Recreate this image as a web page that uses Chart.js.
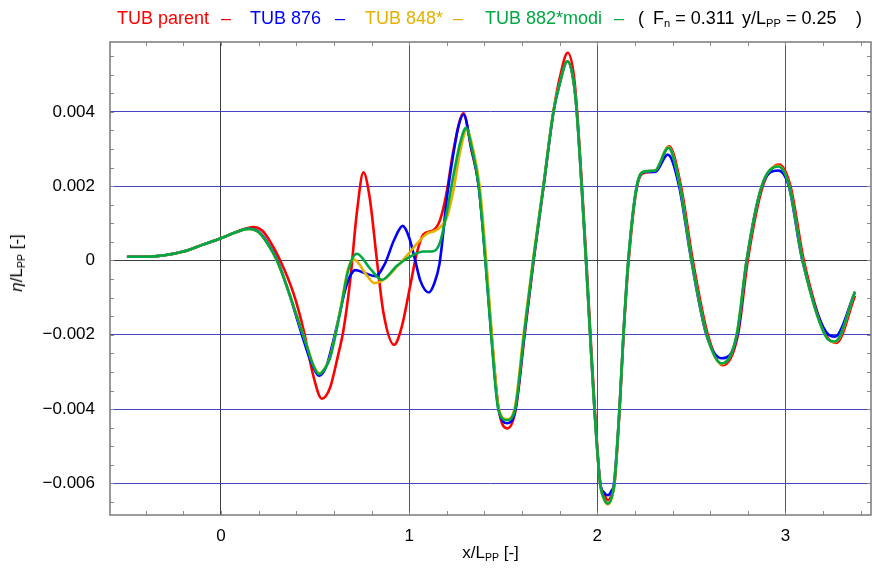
<!DOCTYPE html>
<html>
<head>
<meta charset="utf-8">
<script src="https://cdn.jsdelivr.net/npm/chart.js@4.4.1/dist/chart.umd.min.js"></script>
<style>
  html, body { margin: 0; padding: 0; background: #fff; }
  #wrap { position: relative; width: 872px; height: 574px; font-family: "Liberation Sans", Arial, sans-serif; }
  canvas { position: absolute; left: 0; top: 0; }
  .lg { position: absolute; top: 8px; font-size: 18px; line-height: 21px; white-space: nowrap; }
  sub { font-size: 0.62em; vertical-align: -0.25em; line-height: 0; }
  #xtitle { position: absolute; top: 543px; left: 0; width: 981px; text-align: center; font-size: 17px; }
  #ytitle { position: absolute; left: 17px; top: 263px; transform: translate(-50%, -50%) rotate(-90deg); font-size: 17px; white-space: nowrap; }
</style>
</head>
<body>
<div id="wrap">
  <canvas id="c" width="872" height="574"></canvas>
  <span class="lg" style="left:117px;color:#ff0000">TUB parent</span>
  <span class="lg" style="left:221px;color:#ff0000">–</span>
  <span class="lg" style="left:250px;color:#0000ff">TUB 876</span>
  <span class="lg" style="left:335px;color:#0000ff">–</span>
  <span class="lg" style="left:365px;color:#e6b000">TUB 848*</span>
  <span class="lg" style="left:453px;color:#e6b000">–</span>
  <span class="lg" style="left:485px;color:#00a843">TUB 882*modi</span>
  <span class="lg" style="left:614px;color:#00a843">–</span>
  <span class="lg" style="left:638px;color:#000">(</span>
  <span class="lg" style="left:653px;color:#000">F<sub>n</sub> = 0.311</span>
  <span class="lg" style="left:742px;color:#000">y/L<sub>PP</sub> = 0.25</span>
  <span class="lg" style="left:856px;color:#000">)</span>
  <div id="xtitle">x/L<sub>PP</sub> [-]</div>
  <div id="ytitle"><i>η</i>/L<sub>PP</sub> [-]</div>
</div>
<script>
// ---- data (x/LPP, eta/LPP) ----
const seriesNames = ["TUB parent", "TUB 876", "TUB 848*", "TUB 882*modi"];

const redX = [-0.50,-0.40,-0.30,-0.20,-0.10,0.00,0.08,0.173,0.22,0.26,0.315,0.385,0.439,0.492,0.536,0.58,0.62,0.651,0.687,0.722,0.757,0.79,0.83,0.864,0.92,0.96,1.005,1.041,1.076,1.13,1.165,1.20,1.236,1.289,1.33,1.37,1.407,1.438,1.476,1.523,1.567,1.614,1.662,1.715,1.767,1.80,1.843,1.875,1.893,1.942,1.964,1.987,2.016,2.037,2.057,2.077,2.092,2.119,2.14,2.167,2.212,2.257,2.31,2.382,2.445,2.508,2.588,2.668,2.748,2.80,2.88,2.967,3.027,3.098,3.216,3.27,3.37];
const redY = [0.00010,0.00010,0.00014,0.00024,0.00042,0.00060,0.00077,0.00090,0.00080,0.00052,0.00000,-0.00088,-0.00187,-0.00313,-0.00372,-0.00342,-0.00260,-0.00187,-0.00052,0.00128,0.00237,0.00170,-0.00005,-0.00142,-0.00227,-0.00180,-0.00070,0.00020,0.00070,0.00082,0.00110,0.00185,0.00298,0.00396,0.00300,0.00200,0.00000,-0.00200,-0.00400,-0.00452,-0.00400,-0.00200,0.00000,0.00200,0.00400,0.00490,0.00559,0.00500,0.00400,0.00000,-0.00200,-0.00400,-0.00600,-0.00630,-0.00645,-0.00630,-0.00600,-0.00400,-0.00200,0.00000,0.00200,0.00237,0.00240,0.00307,0.00200,0.00000,-0.00200,-0.00282,-0.00200,0.00000,0.00200,0.00258,0.00200,0.00000,-0.00200,-0.00222,-0.00095];

const blueX = [-0.50,-0.40,-0.30,-0.20,-0.10,0.00,0.08,0.146,0.20,0.245,0.30,0.36,0.43,0.48,0.523,0.56,0.598,0.63,0.66,0.69,0.715,0.76,0.82,0.87,0.92,0.966,1.00,1.03,1.06,1.105,1.135,1.161,1.175,1.20,1.236,1.262,1.289,1.33,1.37,1.406,1.437,1.475,1.522,1.565,1.612,1.66,1.714,1.767,1.80,1.841,1.873,1.891,1.94,1.962,1.985,2.016,2.037,2.056,2.075,2.089,2.118,2.139,2.165,2.21,2.254,2.307,2.375,2.435,2.50,2.58,2.662,2.745,2.794,2.875,2.962,3.018,3.09,3.23,3.264,3.37];
const blueY = [0.00010,0.00010,0.00014,0.00024,0.00042,0.00060,0.00076,0.00086,0.00078,0.00050,0.00000,-0.00085,-0.00200,-0.00275,-0.00310,-0.00285,-0.00214,-0.00145,-0.00079,-0.00038,-0.00026,-0.00033,-0.00042,-0.00010,0.00055,0.00093,0.00062,0.00005,-0.00055,-0.00086,-0.00060,-0.00010,0.00045,0.00165,0.00290,0.00361,0.00393,0.00305,0.00200,0.00000,-0.00200,-0.00400,-0.00438,-0.00400,-0.00200,0.00000,0.00200,0.00400,0.00475,0.00536,0.00485,0.00400,0.00000,-0.00200,-0.00400,-0.00600,-0.00625,-0.00632,-0.00620,-0.00600,-0.00400,-0.00200,0.00000,0.00200,0.00238,0.00238,0.00285,0.00200,0.00000,-0.00200,-0.00263,-0.00200,0.00000,0.00200,0.00242,0.00200,0.00000,-0.00200,-0.00205,-0.00084];

const yellowX = [-0.50,-0.40,-0.30,-0.20,-0.10,0.00,0.08,0.146,0.20,0.245,0.297,0.35,0.404,0.457,0.49,0.525,0.555,0.58,0.633,0.677,0.706,0.775,0.815,0.87,0.944,1.00,1.05,1.094,1.138,1.17,1.20,1.236,1.27,1.307,1.335,1.375,1.41,1.44,1.477,1.52,1.56,1.608,1.658,1.713,1.766,1.80,1.841,1.873,1.891,1.94,1.962,1.985,2.015,2.035,2.056,2.075,2.091,2.118,2.139,2.165,2.21,2.254,2.307,2.378,2.44,2.502,2.582,2.662,2.741,2.794,2.874,2.962,3.021,3.092,3.21,3.264,3.37];
const yellowY = [0.00010,0.00010,0.00014,0.00024,0.00042,0.00060,0.00076,0.00085,0.00076,0.00047,0.00000,-0.00070,-0.00151,-0.00230,-0.00280,-0.00304,-0.00288,-0.00260,-0.00135,-0.00020,0.00003,-0.00040,-0.00061,-0.00050,-0.00012,0.00020,0.00050,0.00072,0.00080,0.00092,0.00115,0.00190,0.00290,0.00352,0.00310,0.00200,0.00000,-0.00200,-0.00400,-0.00427,-0.00400,-0.00200,0.00000,0.00200,0.00400,0.00475,0.00536,0.00485,0.00400,0.00000,-0.00200,-0.00400,-0.00600,-0.00642,-0.00656,-0.00642,-0.00600,-0.00400,-0.00200,0.00000,0.00200,0.00240,0.00242,0.00305,0.00200,0.00000,-0.00200,-0.00279,-0.00200,0.00000,0.00200,0.00255,0.00200,0.00000,-0.00200,-0.00220,-0.00084];

const greenX = [-0.50,-0.40,-0.30,-0.20,-0.10,0.00,0.08,0.146,0.20,0.245,0.297,0.35,0.404,0.457,0.49,0.52,0.55,0.58,0.633,0.677,0.722,0.793,0.855,0.935,1.023,1.076,1.13,1.165,1.20,1.236,1.271,1.303,1.33,1.37,1.405,1.436,1.474,1.52,1.563,1.611,1.66,1.714,1.767,1.80,1.841,1.873,1.891,1.94,1.962,1.985,2.015,2.035,2.056,2.075,2.091,2.118,2.139,2.165,2.21,2.254,2.307,2.378,2.44,2.502,2.582,2.662,2.741,2.794,2.874,2.962,3.021,3.092,3.21,3.264,3.37];
const greenY = [0.00010,0.00010,0.00014,0.00024,0.00042,0.00060,0.00076,0.00085,0.00076,0.00047,0.00000,-0.00070,-0.00151,-0.00232,-0.00282,-0.00306,-0.00292,-0.00262,-0.00140,-0.00025,0.00018,-0.00022,-0.00052,-0.00014,0.00015,0.00024,0.00025,0.00050,0.00130,0.00230,0.00316,0.00357,0.00310,0.00200,0.00000,-0.00200,-0.00400,-0.00430,-0.00400,-0.00200,0.00000,0.00200,0.00400,0.00475,0.00536,0.00485,0.00400,0.00000,-0.00200,-0.00400,-0.00600,-0.00640,-0.00654,-0.00640,-0.00600,-0.00400,-0.00200,0.00000,0.00200,0.00240,0.00242,0.00303,0.00200,0.00000,-0.00200,-0.00277,-0.00200,0.00000,0.00200,0.00253,0.00200,0.00000,-0.00200,-0.00218,-0.00084];

const xTickValues = [0, 1, 2, 3];
const xTickLabels = ["0", "1", "2", "3"];
const yTickValues = [-0.006, -0.004, -0.002, 0, 0.002, 0.004];
const yTickLabels = ["\u22120.006", "\u22120.004", "\u22120.002", "0", "0.002", "0.004"];

// ---- chart ----
const toPts = (xs, ys) => xs.map((x, i) => ({ x: x, y: ys[i] }));
const FONT = "'Liberation Sans', Arial, sans-serif";

const framePlugin = {
  id: 'frame',
  afterDatasetsDraw(chart) {
    const { ctx, chartArea: a, scales: { x, y } } = chart;
    ctx.save();
    ctx.strokeStyle = '#8a8a8a';
    ctx.lineWidth = 1;
    ctx.beginPath();
    const xs = 0.2, ys = 0.0005, L = 4;
    for (let k = Math.ceil(x.min / xs - 1e-9); k * xs <= x.max + 1e-9; k++) {
      const px = Math.round(x.getPixelForValue(k * xs)) + 0.5;
      ctx.moveTo(px, a.bottom); ctx.lineTo(px, a.bottom - L);
      ctx.moveTo(px, a.top); ctx.lineTo(px, a.top + L);
    }
    for (let k = Math.ceil(y.min / ys - 1e-9); k * ys <= y.max + 1e-12; k++) {
      const py = Math.round(y.getPixelForValue(k * ys)) + 0.5;
      ctx.moveTo(a.left, py); ctx.lineTo(a.left + L, py);
      ctx.moveTo(a.right, py); ctx.lineTo(a.right - L, py);
    }
    ctx.stroke();
    ctx.lineWidth = 1.5;
    ctx.strokeStyle = '#7a7a7a';
    ctx.strokeRect(a.left, a.top, a.right - a.left, a.bottom - a.top);
    ctx.restore();
  }
};

const gridColor = (c) => (c.tick && Math.abs(c.tick.value) < 1e-12) ? '#404040' : '#4646c4';

new Chart(document.getElementById('c'), {
  type: 'line',
  data: {
    datasets: [
      { label: seriesNames[0], data: toPts(redX, redY), borderColor: '#ff0000', order: 3 },
      { label: seriesNames[1], data: toPts(blueX, blueY), borderColor: '#0000ff', order: 2 },
      { label: seriesNames[2], data: toPts(yellowX, yellowY), borderColor: '#e6b000', order: 1 },
      { label: seriesNames[3], data: toPts(greenX, greenY), borderColor: '#00a843', order: 0 }
    ]
  },
  options: {
    responsive: false,
    animation: false,
    devicePixelRatio: 1,
    layout: { padding: { top: 42, right: 1, left: 0, bottom: 0 } },
    elements: {
      point: { radius: 0 },
      line: { borderWidth: 2.6, cubicInterpolationMode: 'monotone', fill: false }
    },
    plugins: { legend: { display: false }, tooltip: { enabled: false }, title: { display: false } },
    scales: {
      x: {
        type: 'linear', min: -0.59, max: 3.455,
        afterBuildTicks: (s) => { s.ticks = xTickValues.map(v => ({ value: v })); },
        afterFit: (s) => { s.height = 59; },
        ticks: {
          padding: 11, color: '#000', font: { family: FONT, size: 17 },
          callback: (v) => { const i = xTickValues.indexOf(v); return i >= 0 ? xTickLabels[i] : ''; },
          maxRotation: 0, autoSkip: false
        },
        grid: { color: gridColor, lineWidth: 1, drawTicks: false },
        border: { display: false }
      },
      y: {
        type: 'linear', min: -0.00685, max: 0.00588,
        afterBuildTicks: (s) => { s.ticks = yTickValues.map(v => ({ value: v })); },
        afterFit: (s) => { s.width = 110; },
        ticks: {
          padding: 15, color: '#000', font: { family: FONT, size: 17 },
          callback: (v) => { const i = yTickValues.findIndex(t => Math.abs(t - v) < 1e-9); return i >= 0 ? yTickLabels[i] : ''; },
          autoSkip: false
        },
        grid: { color: gridColor, lineWidth: 1, drawTicks: false },
        border: { display: false }
      }
    }
  },
  plugins: [framePlugin]
});
</script>
</body>
</html>
